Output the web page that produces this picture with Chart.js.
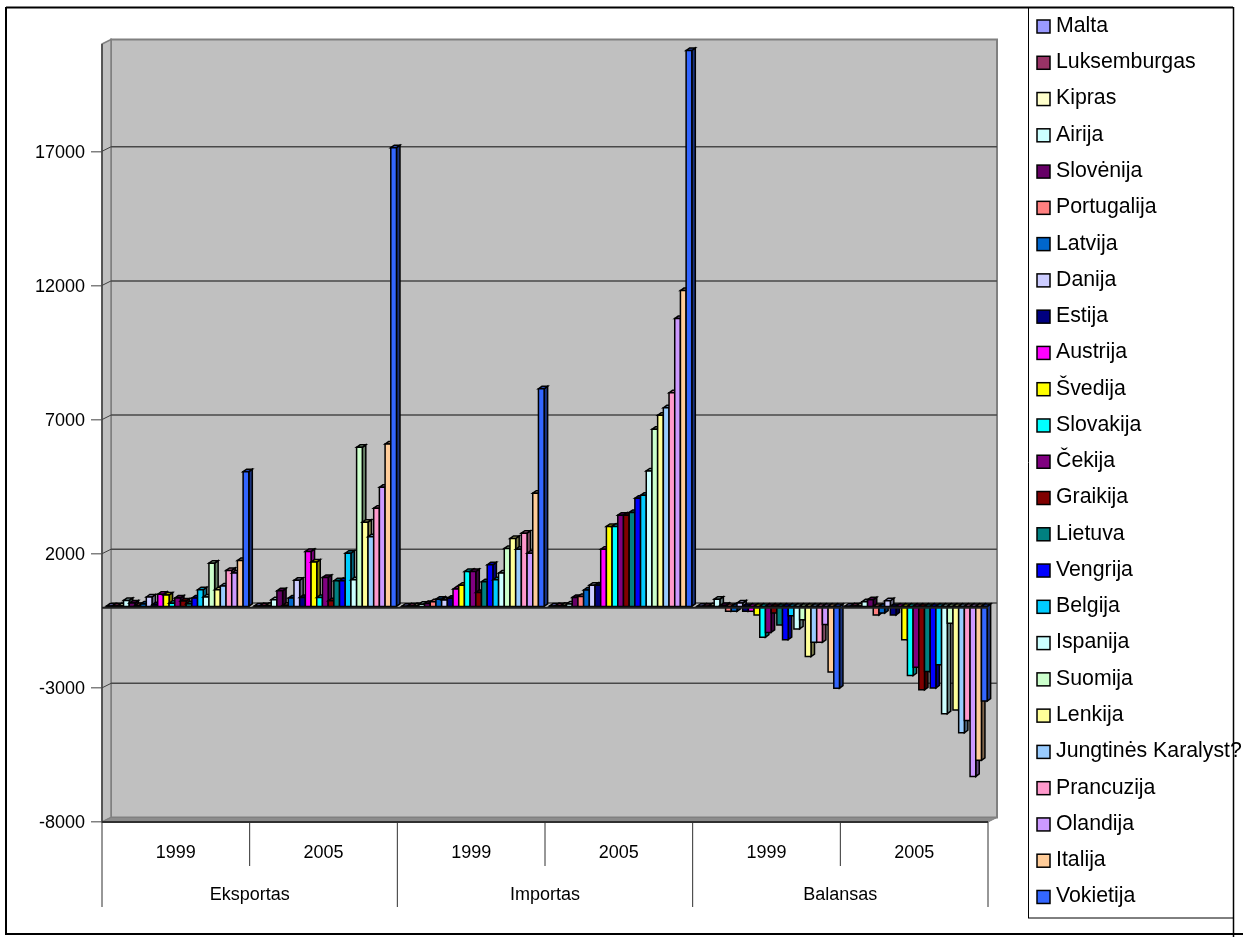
<!DOCTYPE html>
<html>
<head>
<meta charset="utf-8">
<style>
  html, body { margin: 0; padding: 0; background: #fff; }
  #wrap { width: 1243px; height: 937px; }
</style>
<script src="https://cdn.jsdelivr.net/npm/chart.js@4"></script>
</head>
<body>
<div id="wrap"><canvas id="chart" width="1243" height="937"></canvas></div>
<script>
const categories = ['1999', '2005', '1999', '2005', '1999', '2005'];
const groupLabels = ['Eksportas', 'Importas', 'Balansas'];
const yTickValues = [-8000, -3000, 2000, 7000, 12000, 17000];
const countries = ['Malta', 'Luksemburgas', 'Kipras', 'Airija', 'Slovėnija', 'Portugalija', 'Latvija', 'Danija', 'Estija', 'Austrija', 'Švedija', 'Slovakija', 'Čekija', 'Graikija', 'Lietuva', 'Vengrija', 'Belgija', 'Ispanija', 'Suomija', 'Lenkija', 'Jungtinės Karalyst?', 'Prancuzija', 'Olandija', 'Italija', 'Vokietija'];
const colors = ['#9999FF', '#993366', '#FFFFCC', '#CCFFFF', '#660066', '#FF8080', '#0066CC', '#CCCCFF', '#000080', '#FF00FF', '#FFFF00', '#00FFFF', '#800080', '#800000', '#008080', '#0000FF', '#00CCFF', '#CCFFFF', '#CCFFCC', '#FFFF99', '#99CCFF', '#FF99CC', '#CC99FF', '#FFCC99', '#3366FF'];

// each row: one country, values in the order of categories
const malta = [10, 10, 5, 10, 5, 5];
const luksemburgas = [10, 20, 10, 20, 5, 10];
const kipras = [20, 30, 20, 30, 10, 15];
const airija = [220, 250, 80, 90, 270, 170];
const slovenija = [125, 580, 110, 335, 30, 250];
const portugalija = [30, 40, 175, 370, -185, -320];
const latvija = [90, 310, 270, 610, -185, -250];
const danija = [350, 970, 235, 790, 125, 210];
const estija = [60, 335, 300, 790, -185, -320];
const austrija = [450, 2050, 645, 2130, -185, -40];
const svedija = [420, 1650, 790, 2980, -320, -1240];
const slovakija = [120, 335, 1300, 2980, -1150, -2580];
const cekija = [310, 1080, 1300, 3400, -970, -2270];
const graikija = [200, 210, 520, 3400, -250, -3110];
const lietuva = [100, 955, 920, 3500, -690, -2430];
const vengrija = [310, 955, 1550, 4030, -1240, -3040];
const belgija = [620, 1980, 990, 4140, -350, -2180];
const ispanija = [350, 990, 1240, 5050, -840, -4000];
const suomija = [1610, 5930, 2160, 6600, -500, -630];
const lenkija = [620, 3140, 2530, 7120, -1870, -3860];
const jungtine = [760, 2600, 2130, 7400, -1340, -4710];
const prancuzija = [1340, 3660, 2730, 7960, -1340, -4250];
const olandija = [1240, 4440, 1980, 10730, -680, -6340];
const italija = [1710, 6050, 4220, 11770, -2450, -5740];
const vokietija = [5020, 17100, 8110, 20720, -3050, -3530];

const seriesValues = [malta, luksemburgas, kipras, airija, slovenija, portugalija, latvija, danija, estija, austrija, svedija, slovakija, cekija, graikija, lietuva, vengrija, belgija, ispanija, suomija, lenkija, jungtine, prancuzija, olandija, italija, vokietija];

const FONT = '"Liberation Sans", Arial, sans-serif';
const WALL_DX = 9, WALL_DY = 4.5;
const BAR_DX = 3.5, BAR_DY = 2.5;

function shade(hex, f) {
  const n = parseInt(hex.slice(1), 16);
  const r = Math.round((n >> 16 & 255) * f);
  const g = Math.round((n >> 8 & 255) * f);
  const b = Math.round((n & 255) * f);
  return 'rgb(' + r + ',' + g + ',' + b + ')';
}

function poly(ctx, pts, fill, stroke, lw) {
  ctx.beginPath();
  ctx.moveTo(pts[0][0], pts[0][1]);
  for (let i = 1; i < pts.length; i++) ctx.lineTo(pts[i][0], pts[i][1]);
  ctx.closePath();
  if (fill) { ctx.fillStyle = fill; ctx.fill(); }
  if (stroke) { ctx.strokeStyle = stroke; ctx.lineWidth = lw || 1; ctx.stroke(); }
}

function line(ctx, x1, y1, x2, y2, color, lw) {
  ctx.beginPath();
  ctx.moveTo(x1, y1);
  ctx.lineTo(x2, y2);
  ctx.strokeStyle = color;
  ctx.lineWidth = lw || 1;
  ctx.stroke();
}

// frame, legend box, walls, floor and the gridlines on the back wall
const wallsPlugin = {
  id: 'walls',
  beforeDatasetsDraw(chart) {
    const ctx = chart.ctx;
    const a = chart.chartArea;
    const y = chart.scales.y;
    ctx.save();

    poly(ctx, [[a.left + WALL_DX, a.top - WALL_DY], [a.right + WALL_DX, a.top - WALL_DY], [a.right + WALL_DX, a.bottom - WALL_DY], [a.left + WALL_DX, a.bottom - WALL_DY]], '#C0C0C0', '#808080', 2);
    poly(ctx, [[a.left, a.top], [a.left + WALL_DX, a.top - WALL_DY], [a.left + WALL_DX, a.bottom - WALL_DY], [a.left, a.bottom]], '#C0C0C0', '#808080', 1.5);
    poly(ctx, [[a.left, a.bottom], [a.left + WALL_DX, a.bottom - WALL_DY], [a.right + WALL_DX, a.bottom - WALL_DY], [a.right, a.bottom]], '#8c8c8c', '#808080', 1);

    yTickValues.forEach(function (v) {
      if (v === yTickValues[0]) return;
      const py = y.getPixelForValue(v);
      line(ctx, a.left, py, a.left + WALL_DX, py - WALL_DY, '#404040', 1);
      line(ctx, a.left + WALL_DX, py - WALL_DY, a.right + WALL_DX, py - WALL_DY, '#484848', 1.5);
    });
    const zero = y.getPixelForValue(0);
    line(ctx, a.left + WALL_DX, zero - WALL_DY, a.right + WALL_DX, zero - WALL_DY, '#484848', 1.5);

    line(ctx, a.left, a.top, a.left, a.bottom, '#404040', 1.5);
    line(ctx, a.left, a.bottom, a.right, a.bottom, '#303030', 2);

    // bars, left to right so that each one covers the side of the one before it
    chart.data.datasets.forEach(function (ds, di) {
      chart.getDatasetMeta(di).data.forEach(function (el) {
        const p = el.getProps(['x', 'y', 'base', 'width'], false);
        const x1 = p.x - p.width / 2 + 1.8;
        const x2 = p.x + p.width / 2 + 1.8;
        const top = Math.min(p.y, p.base) - 1;
        const bottom = Math.max(p.y, p.base) - 1;
        const c = ds.backgroundColor;
        poly(ctx, [[x2, top], [x2 + BAR_DX, top - BAR_DY], [x2 + BAR_DX, bottom - BAR_DY], [x2, bottom]], shade(c, 0.5), '#000', 1.5);
        poly(ctx, [[x1, top], [x1 + BAR_DX, top - BAR_DY], [x2 + BAR_DX, top - BAR_DY], [x2, top]], shade(c, 0.7), '#000', 1.5);
        poly(ctx, [[x1, top], [x2, top], [x2, bottom], [x1, bottom]], c, '#000', 1.5);
      });
    });

    line(ctx, a.left, zero + 0.4, a.right, zero + 0.4, '#202020', 2);
    ctx.restore();
    return false;
  },
  afterDraw(chart) {
    const ctx = chart.ctx;
    const a = chart.chartArea;
    const x = chart.scales.x;
    const step = (x.right - x.left) / categories.length;
    ctx.save();

    // category separators under the plot
    for (let i = 0; i <= categories.length; i++) {
      const px = x.left + step * i;
      line(ctx, px, a.bottom, px, i % 2 === 0 ? 907 : 866, '#303030', 1);
    }

    // outer frame
    line(ctx, 6, 7.5, 1233, 7.5, '#000', 2);
    line(ctx, 6, 7, 6, 935, '#000', 2);
    line(ctx, 6, 934, 1243, 934, '#000', 2);
    line(ctx, 1233.5, 7, 1233.5, 937, '#000', 1.5);
    line(ctx, 1028.5, 7, 1028.5, 918, '#000', 1);
    line(ctx, 1028, 918, 1233, 918, '#000', 1);

    // legend
    ctx.font = '21.3px ' + FONT;
    ctx.textBaseline = 'middle';
    ctx.textAlign = 'left';
    chart.data.datasets.forEach(function (ds, i) {
      const cy = 26 + i * 36.27;
      ctx.fillStyle = ds.backgroundColor;
      ctx.fillRect(1037, cy - 6, 13, 13);
      ctx.strokeStyle = '#000';
      ctx.lineWidth = 1.5;
      ctx.strokeRect(1037, cy - 6, 13, 13);
      ctx.fillStyle = '#000';
      ctx.fillText(ds.label, 1056, cy);
    });
    ctx.restore();
  }
};

new Chart(document.getElementById('chart'), {
  type: 'bar',
  data: {
    labels: categories,
    datasets: countries.map(function (name, i) {
      return { label: name, data: seriesValues[i], backgroundColor: colors[i], xAxisID: 'x', yAxisID: 'y' };
    })
  },
  options: {
    responsive: false,
    animation: false,
    layout: { padding: { top: 44, right: 255, left: 0, bottom: 0 } },
    barPercentage: 1,
    categoryPercentage: 0.964,
    plugins: {
      legend: { display: false },
      tooltip: { enabled: false }
    },
    scales: {
      x: {
        weight: 1,
        offset: true,
        grid: { display: false },
        border: { display: false },
        ticks: { color: '#000', font: { family: FONT, size: 18 }, padding: 12, maxRotation: 0, autoSkip: false },
        afterFit: function (scale) { scale.height = 44; }
      },
      x2: {
        type: 'category',
        labels: groupLabels,
        position: 'bottom',
        weight: 2,
        offset: true,
        grid: { display: false },
        border: { display: false },
        ticks: { color: '#000', font: { family: FONT, size: 18 }, padding: 10, maxRotation: 0, autoSkip: false },
        afterFit: function (scale) { scale.height = 71; }
      },
      y: {
        min: -8000,
        max: 21000,
        border: { display: false },
        grid: { drawOnChartArea: false, drawTicks: true, tickLength: 11, color: '#808080', lineWidth: 1.5 },
        ticks: {
          color: '#000',
          font: { family: FONT, size: 18 },
          padding: 6,
          labelOffset: 1.5,
          callback: function (v) { return String(v); }
        },
        afterBuildTicks: function (scale) {
          scale.ticks = yTickValues.map(function (v) { return { value: v }; });
        },
        afterFit: function (scale) { scale.width = 102; }
      }
    }
  },
  plugins: [wallsPlugin]
});
</script>
</body>
</html>
